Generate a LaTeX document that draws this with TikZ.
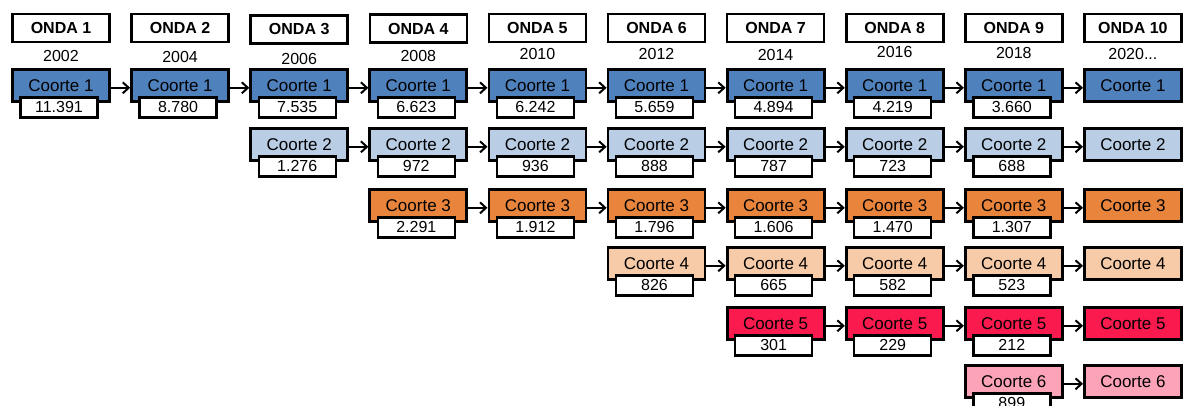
\documentclass[tikz,border=0pt]{standalone}
\usepackage{fontspec}
\setmainfont{Liberation Sans}
\usetikzlibrary{arrows.meta}
\definecolor{c1}{HTML}{4F81BD}
\definecolor{c2}{HTML}{B9CDE5}
\definecolor{c3}{HTML}{E8843C}
\definecolor{c4}{HTML}{F7CBA8}
\definecolor{c5}{HTML}{FA1A4E}
\definecolor{c6}{HTML}{FDA3B7}
\newcommand\yrten{2020...}
\newcommand\mycell[4]{% row, col, top, value
  \node[coorte, fill=c#1] (r#1c#2) at ({61+(#2-1)*119.1}, #3) {Coorte #1};
  \node[numbox] (n#1c#2) at ({59+(#2-1)*119.1}, #3+28) {#4};
}
\newcommand\mylast[2]{% row, top
  \node[coorte, fill=c#1] (r#1c10) at ({61+9*119.1}, #2) {Coorte #1};
}
\begin{document}
\begin{tikzpicture}[x=1pt,y=-1pt,
  onda/.style={draw,line width=2.6pt,fill=white,minimum width=97pt,minimum height=28pt,inner sep=0pt,font=\fontsize{16}{16}\selectfont\bfseries},
  yearlab/.style={inner sep=0pt,font=\fontsize{16}{16}\selectfont},
  coorte/.style={draw,line width=2.8pt,minimum width=97pt,minimum height=32pt,inner sep=0pt,anchor=north,yshift=-1.4pt,font=\fontsize{17}{17}\selectfont},
  numbox/.style={draw,line width=2.4pt,fill=white,minimum width=77pt,minimum height=20pt,inner sep=0pt,anchor=north,yshift=-1.2pt,font=\fontsize{16}{16}\selectfont},
  arr/.style={line width=2pt,-{Straight Barb[length=6pt,width=11pt,line width=2pt]}}]
\useasboundingbox (0,0) rectangle (1187,405);
\clip (0,0) rectangle (1187,405);
% headers
\foreach \i/\yr/\yy/\oy in {1/2002/56/28,2/2004/57/28,3/2006/59/29.5,4/2008/56/28.5,5/2010/54/28,6/2012/54/28,7/2014/55/28,8/2016/52/28,9/2018/53/28,10/\yrten/54/28}{
  \node[onda] (o\i) at ({61+(\i-1)*119.1},\oy) {ONDA \i};
  \node[yearlab] (y\i) at ({61+(\i-1)*119.1},\yy) {\yr};
}
% row 1
\foreach \c/\v in {1/11.391,2/8.780,3/7.535,4/6.623,5/6.242,6/5.659,7/4.894,8/4.219,9/3.660}{\mycell{1}{\c}{67}{\v}}
\mylast{1}{67}
% row 2
\foreach \c/\v in {3/1.276,4/972,5/936,6/888,7/787,8/723,9/688}{\mycell{2}{\c}{126}{\v}}
\mylast{2}{126}
% row 3
\foreach \c/\v in {4/2.291,5/1.912,6/1.796,7/1.606,8/1.470,9/1.307}{\mycell{3}{\c}{187}{\v}}
\mylast{3}{187}
% row 4
\foreach \c/\v in {6/826,7/665,8/582,9/523}{\mycell{4}{\c}{245}{\v}}
\mylast{4}{245}
% row 5
\foreach \c/\v in {7/301,8/229,9/212}{\mycell{5}{\c}{305}{\v}}
\mylast{5}{305}
% row 6
\foreach \c/\v in {9/899}{\mycell{6}{\c}{363}{\v}}
\mylast{6}{363}
% arrows
\foreach \r/\s in {1/1,2/3,3/4,4/6,5/7,6/9}{
  \foreach \c in {\s,...,9}{
    \pgfmathtruncatemacro\nx{\c+1}
    \draw[arr] ([yshift=-2pt]r\r c\c.east) -- ([yshift=-2pt]r\r c\nx.west);
  }
}
\end{tikzpicture}
\end{document}
